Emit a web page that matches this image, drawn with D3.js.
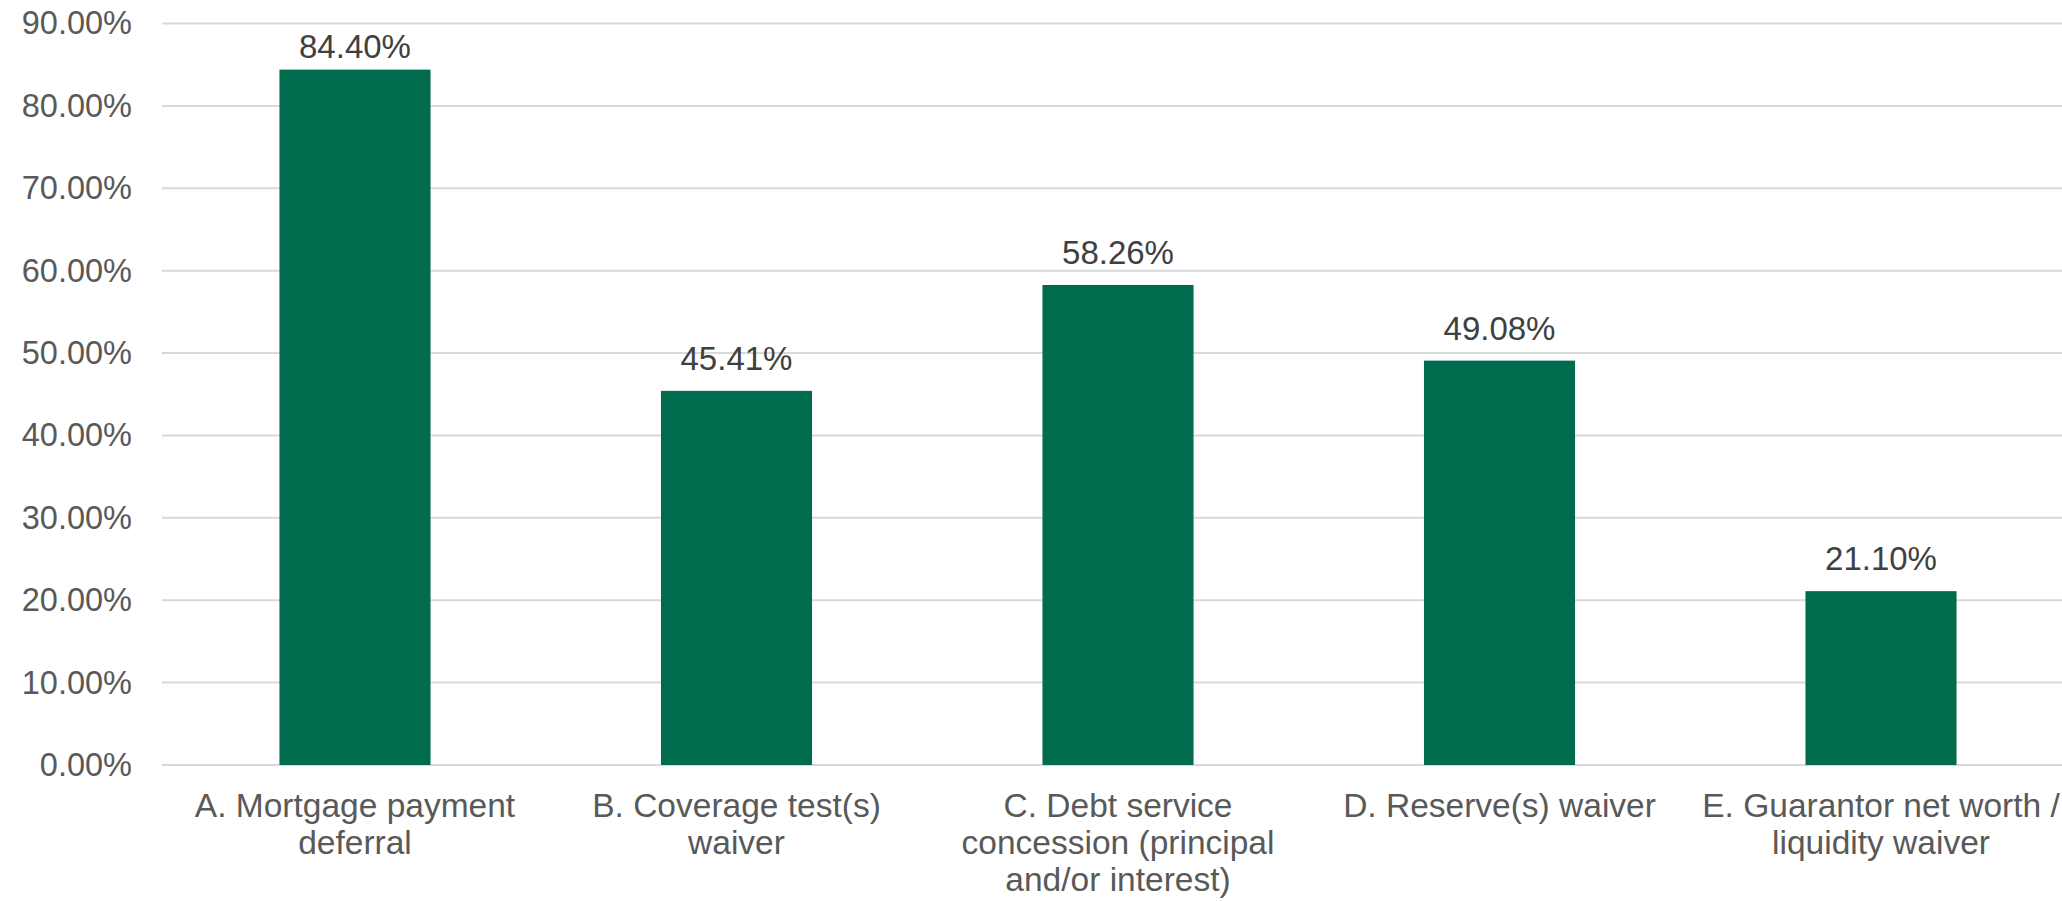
<!DOCTYPE html>
<html>
<head>
<meta charset="utf-8">
<script src="https://cdn.jsdelivr.net/npm/d3@7"></script>
<style>
  body { margin: 0; background: #fff; }
  svg { display: block; font-family: "Liberation Sans", Arial, sans-serif; }
</style>
</head>
<body>
<svg width="2062" height="901"></svg>
<script>
// categories (each one already split into the lines Excel wrapped them to)
let categories = ["A", "B", "C", "D", "E"];
let categoryLines = [
  ["A. Mortgage payment", "deferral"],
  ["B. Coverage test(s)", "waiver"],
  ["C. Debt service", "concession (principal", "and/or interest)"],
  ["D. Reserve(s) waiver"],
  ["E. Guarantor net worth /", "liquidity waiver"]
];
let values = [84.40, 45.41, 58.26, 49.08, 21.10];
let yTicks = [0, 10, 20, 30, 40, 50, 60, 70, 80, 90];

let svg = d3.select("svg"),
  margin = {top: 23.5, right: 0, bottom: 136, left: 162},
  width = +svg.attr("width") - margin.left - margin.right,
  height = +svg.attr("height") - margin.top - margin.bottom;

let x = d3.scaleBand().domain(categories).range([3, 1909]).paddingInner(0.604).paddingOuter(0.3),
  y = d3.scaleLinear().domain([0, 90]).range([height, 0]);

let g = svg.append("g")
  .attr("transform", "translate(" + margin.left + "," + margin.top + ")");

// gridlines
g.selectAll(".grid")
  .data(yTicks)
  .enter().append("line")
    .attr("class", "grid")
    .attr("x1", 0)
    .attr("x2", width)
    .attr("y1", function(d) { return y(d); })
    .attr("y2", function(d) { return y(d); })
    .attr("stroke", "#d9d9d9")
    .attr("stroke-width", 2);

// y axis labels
let yAxis = g.append("g")
  .call(d3.axisLeft(y).tickValues(yTicks).tickSize(0).tickPadding(30)
    .tickFormat(function(d) { return d3.format(".2f")(d) + "%"; }));
yAxis.select(".domain").remove();
yAxis.selectAll("text")
  .attr("fill", "#595959")
  .style("font-size", "32.5px")
  .style("font-family", "'Liberation Sans', Arial, sans-serif");

// bars
g.selectAll(".bar")
  .data(values)
  .enter().append("rect")
    .attr("class", "bar")
    .attr("x", function(d, i) { return x(categories[i]); })
    .attr("y", function(d) { return y(d); })
    .attr("width", x.bandwidth())
    .attr("height", function(d) { return height - y(d); })
    .attr("fill", "#006b4d");

// value labels (pushed down when they would leave the plot area)
g.selectAll(".val")
  .data(values)
  .enter().append("text")
    .attr("class", "val")
    .attr("x", function(d, i) { return x(categories[i]) + x.bandwidth() / 2; })
    .attr("y", function(d) { return Math.max(y(d) - 21, 34.5); })
    .attr("text-anchor", "middle")
    .attr("fill", "#404040")
    .style("font-size", "33px")
    .text(function(d) { return d3.format(".2f")(d) + "%"; });

// x axis labels
let xAxis = g.append("g")
  .attr("transform", "translate(0," + height + ")")
  .call(d3.axisBottom(x).tickSize(0).tickFormat(""));
xAxis.select(".domain").remove();

xAxis.selectAll(".tick").each(function(d, i) {
  let t = d3.select(this).append("text")
    .attr("fill", "#595959")
    .attr("text-anchor", "middle")
    .style("font-size", "33.5px")
    .style("font-family", "'Liberation Sans', Arial, sans-serif");
  categoryLines[i].forEach(function(line, k) {
    t.append("tspan")
      .attr("x", 0)
      .attr("y", 52 + k * 37)
      .text(line);
  });
});
</script>
</body>
</html>
